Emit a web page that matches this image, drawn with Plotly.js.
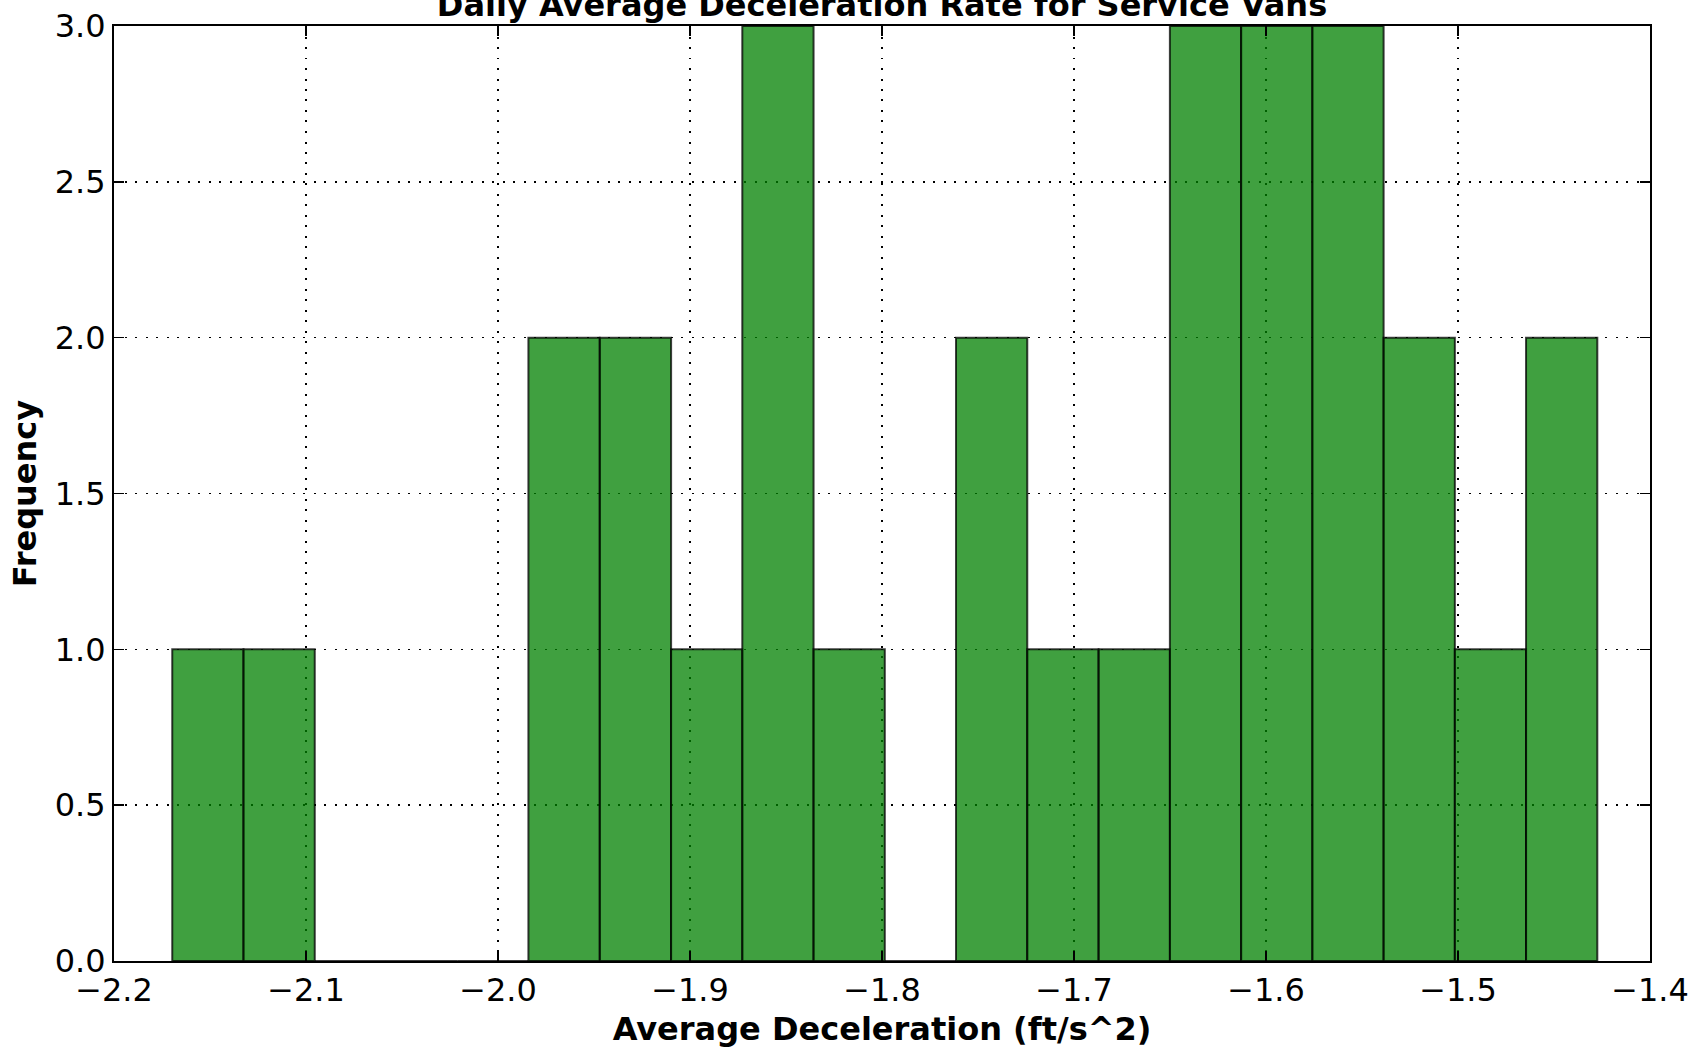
<!DOCTYPE html>
<html>
<head>
<meta charset="utf-8">
<script src="https://cdn.plot.ly/plotly-3.0.1.min.js"></script>
<style>
  html, body { margin: 0; padding: 0; background: #ffffff; }
  #chart { width: 1698px; height: 1048px; }
</style>
</head>
<body>
<div id="chart"></div>
<script>
// Histogram bins (20 bins)
const binCenters = [-2.1511, -2.1140, -2.0769, -2.0398, -2.0027, -1.9656, -1.9284, -1.8913, -1.8542, -1.8171,
                    -1.7800, -1.7429, -1.7058, -1.6686, -1.6315, -1.5944, -1.5573, -1.5202, -1.4831, -1.4460];
const counts = [1, 1, 0, 0, 0, 2, 2, 1, 3, 1, 0, 2, 1, 1, 3, 3, 3, 2, 1, 2];
const binWidth = 0.03712;

const xTickVals = [-2.2, -2.1, -2.0, -1.9, -1.8, -1.7, -1.6, -1.5, -1.4];
const xTickText = ["\u22122.2", "\u22122.1", "\u22122.0", "\u22121.9", "\u22121.8", "\u22121.7", "\u22121.6", "\u22121.5", "\u22121.4"];
const yTickVals = [0.0, 0.5, 1.0, 1.5, 2.0, 2.5, 3.0];
const yTickText = ["0.0", "0.5", "1.0", "1.5", "2.0", "2.5", "3.0"];

const titleText = "Daily Average Deceleration Rate for Service Vans";
const xTitle = "Average Deceleration (ft/s^2)";
const yTitle = "Frequency";

const FONT = "DejaVu Sans, Liberation Sans, sans-serif";

const trace = {
  type: "bar",
  x: binCenters,
  y: counts,
  width: binWidth,
  marker: {
    color: "rgba(0,128,0,0.75)",
    line: { color: "rgba(0,0,0,0.75)", width: 2 }
  },
  hoverinfo: "x+y"
};

const axisCommon = {
  showline: true,
  linecolor: "#000000",
  linewidth: 2,
  mirror: "ticks",
  ticks: "inside",
  ticklen: 10,
  tickwidth: 1.5,
  tickcolor: "#000000",
  showgrid: true,
  gridcolor: "#000000",
  gridwidth: 1.5,
  griddash: "2px,8.5px",
  zeroline: false,
  layer: "above traces",
  tickfont: { family: FONT, size: 32, color: "#000000" }
};

const layout = {
  width: 1698,
  height: 1048,
  paper_bgcolor: "#ffffff",
  plot_bgcolor: "#ffffff",
  margin: { l: 114, r: 48, t: 26, b: 87, pad: 0 },
  showlegend: false,
  bargap: 0,
  title: {
    text: titleText,
    font: { family: FONT, size: 32, color: "#000000", weight: "bold" },
    x: 0.5,
    xref: "paper",
    xanchor: "center",
    y: 0.9955,
    yref: "container",
    yanchor: "middle"
  },
  xaxis: Object.assign({}, axisCommon, {
    range: [-2.2, -1.4],
    tickmode: "array",
    tickvals: xTickVals,
    ticktext: xTickText,
    title: { text: xTitle, font: { family: FONT, size: 32, color: "#000000", weight: "bold" }, standoff: 13 }
  }),
  yaxis: Object.assign({}, axisCommon, {
    range: [0, 3],
    tickmode: "array",
    tickvals: yTickVals,
    ticktext: yTickText,
    title: { text: yTitle, font: { family: FONT, size: 32, color: "#000000", weight: "bold" }, standoff: 9 }
  })
};

Plotly.newPlot("chart", [trace], layout, { displayModeBar: false, staticPlot: true });
</script>
</body>
</html>
